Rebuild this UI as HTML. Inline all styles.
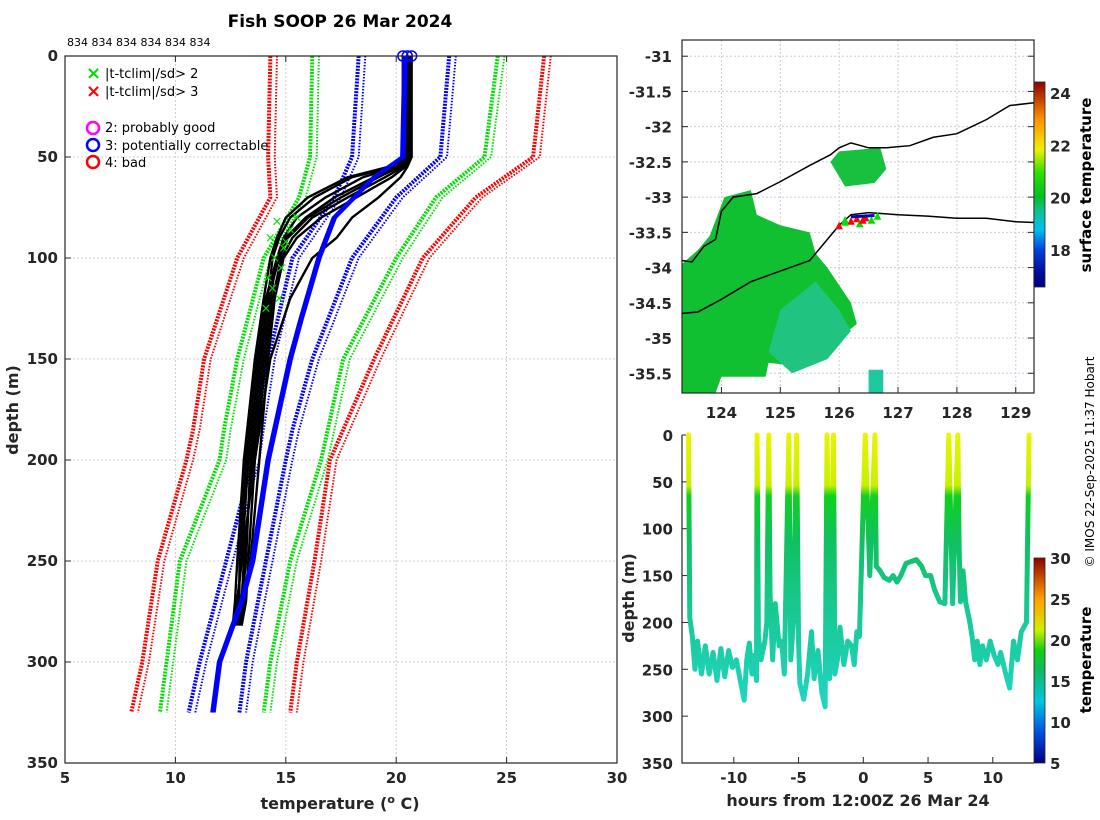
<!DOCTYPE html>
<html><head><meta charset="utf-8"><style>
body{margin:0;background:#fff}
svg{display:block;font-family:"DejaVu Sans","Liberation Sans",sans-serif}
.tk{font-size:15px;font-weight:bold;fill:#262626}
.lab{font-size:16px;font-weight:bold;fill:#262626}
</style></head><body>
<svg id="fig" width="1100" height="820" viewBox="0 0 1100 820">
<defs>
<linearGradient id="cbMap" x1="0" y1="1" x2="0" y2="0">
<stop offset="0" stop-color="#00007f"/><stop offset="0.08" stop-color="#0010a0"/><stop offset="0.18" stop-color="#0040e0"/><stop offset="0.28" stop-color="#00c0f0"/><stop offset="0.37" stop-color="#10c090"/><stop offset="0.44" stop-color="#00c020"/><stop offset="0.56" stop-color="#30e000"/><stop offset="0.67" stop-color="#f0f000"/><stop offset="0.82" stop-color="#ff9000"/><stop offset="1" stop-color="#900000"/></linearGradient>
<linearGradient id="cbT" x1="0" y1="1" x2="0" y2="0"><stop offset="0" stop-color="#00007f"/><stop offset="0.15" stop-color="#0050e0"/><stop offset="0.3" stop-color="#00c8e0"/><stop offset="0.45" stop-color="#10b860"/><stop offset="0.55" stop-color="#10d010"/><stop offset="0.65" stop-color="#d0f000"/><stop offset="0.8" stop-color="#ffa000"/><stop offset="1" stop-color="#900000"/></linearGradient>
<linearGradient id="tsGrad" gradientUnits="userSpaceOnUse" x1="0" y1="435" x2="0" y2="700"><stop offset="0" stop-color="#e8f400"/><stop offset="0.19" stop-color="#c8f000"/><stop offset="0.23" stop-color="#10d020"/><stop offset="0.4" stop-color="#10c060"/><stop offset="0.65" stop-color="#18c890"/><stop offset="1" stop-color="#20d4c0"/></linearGradient>
</defs>
<g id="left"></g><g id="map"></g><g id="ts"></g>
<text x="340" y="27" text-anchor="middle" style="font-size:17px;font-weight:bold">Fish SOOP 26 Mar 2024</text>
<text x="67" y="46" style="font-size:11px">834 834 834 834 834 834</text>
<text class="lab" x="340" y="809" text-anchor="middle">temperature (<tspan dy="-6" style="font-size:11px">o</tspan><tspan dy="6"> C)</tspan></text>
<text class="lab" transform="translate(18,410) rotate(-90)" text-anchor="middle">depth (m)</text>
<text class="lab" x="858" y="806" text-anchor="middle">hours from 12:00Z 26 Mar 24</text>
<text class="lab" transform="translate(634,598) rotate(-90)" text-anchor="middle">depth (m)</text>
<text transform="translate(1091,185) rotate(-90)" text-anchor="middle" style="font-size:15px;font-weight:bold">surface temperature</text>
<text transform="translate(1091,660) rotate(-90)" text-anchor="middle" style="font-size:15px;font-weight:bold">temperature</text>
<text transform="translate(1094,462) rotate(-90)" text-anchor="middle" style="font-size:12px">© IMOS 22-Sep-2025 11:37 Hobart</text>
<g style="font-size:13px">
<text x="86" y="79" fill="#00e000" style="font-size:18px;font-weight:bold">×</text><text x="105" y="78">|t-tclim|/sd&gt; 2</text>
<text x="86" y="97" fill="#ff0000" style="font-size:18px;font-weight:bold">×</text><text x="105" y="96">|t-tclim|/sd&gt; 3</text>
<circle cx="93" cy="128" r="6" fill="none" stroke="#ff00ff" stroke-width="2.5"/><text x="105" y="132">2: probably good</text>
<circle cx="93" cy="145" r="6" fill="none" stroke="#0000ff" stroke-width="2.5"/><text x="105" y="150">3: potentially correctable</text>
<circle cx="93" cy="162" r="6" fill="none" stroke="#ff0000" stroke-width="2.5"/><text x="105" y="167">4: bad</text>
</g>
</svg>
<script>
const NS="http://www.w3.org/2000/svg";
// ---- left profile chart data ----
const climDepths=[0,50,70,100,150,185,200,250,300,325];
const redLow=[14.3,14.2,14.3,12.8,11.3,10.8,10.5,9.2,8.5,8.0];
const greenLow=[16.2,16.1,15.6,14.0,12.8,12.2,12.0,10.2,9.6,9.3];
const blueLow=[18.3,18.0,17.2,15.3,14.2,13.7,13.5,12.3,11.1,10.6];
const blueHigh=[22.4,22.0,20.0,18.0,16.2,15.3,15.0,14.1,13.2,12.9];
const greenHigh=[24.6,24.0,21.8,20.0,17.6,16.9,16.6,15.2,14.3,14.0];
const redHigh=[26.7,26.2,23.6,21.2,19.0,17.6,17.0,16.3,15.5,15.2];
const meanDepths=[0,50,60,80,100,130,150,200,250,270,300,325];
const meanTemp=[20.4,20.3,19.0,17.2,16.5,15.7,15.2,14.2,13.5,13.0,12.0,11.7];
const profDepths=[0,50,55,60,70,80,90,100,120,150,200,250,270,282];
const profiles=[
[20.5,20.5,20.0,18.5,16.8,15.5,14.9,14.6,14.3,14.0,13.5,13.1,13.0,12.9],
[20.6,20.6,20.3,19.5,17.8,16.2,15.3,14.8,14.4,14.1,13.6,13.3,13.2,13.0],
[20.4,20.4,19.8,18.0,16.3,15.2,14.7,14.4,14.2,13.8,13.3,13.0,12.8,12.7],
[20.7,20.7,20.5,20.2,19.2,18.0,17.3,16.2,15.2,14.3,13.6,13.0,12.8,12.7],
[20.5,20.5,20.2,19.0,17.2,15.9,15.0,14.6,14.1,13.7,13.2,12.9,12.9,12.8],
[20.6,20.6,20.4,19.8,18.2,16.6,15.5,14.9,14.5,14.2,13.8,13.4,13.1,13.0],
[20.3,20.3,19.6,17.8,16.0,15.0,14.6,14.3,14.0,13.6,13.1,12.8,12.7,12.6],
[20.5,20.5,20.1,19.2,17.5,16.0,15.1,14.7,14.2,13.9,13.4,13.2,13.0,12.9]];
const flagTemp=[14.6,15.2,14.3,14.9,15.5,14.5,14.8,14.2,15.0,14.4,14.7,14.1];
const flagDepth=[82,86,90,95,80,100,105,110,92,115,120,125];
const xTicks=[5,10,15,20,25,30];
const yTicks=[0,50,100,150,200,250,300,350];
// ---- map data ----
const lonTicks=[124,125,126,127,128,129];
const latTicks=[-31,-31.5,-32,-32.5,-33,-33.5,-34,-34.5,-35,-35.5];
const coastLon=[123.33,123.5,123.7,123.9,124.0,124.2,124.6,125.0,125.5,125.85,126.0,126.2,126.5,126.8,127.2,127.6,128.0,128.5,128.9,129.31];
const coastLat=[-33.9,-33.92,-33.7,-33.6,-33.2,-33.0,-32.95,-32.78,-32.55,-32.4,-32.3,-32.23,-32.3,-32.3,-32.27,-32.15,-32.1,-31.9,-31.7,-31.66];
const shelfLon=[123.33,123.6,124.0,124.5,125.0,125.5,125.8,126.0,126.2,126.5,127.0,127.5,128.0,128.5,129.0,129.31];
const shelfLat=[-34.65,-34.63,-34.45,-34.2,-34.05,-33.9,-33.6,-33.4,-33.25,-33.22,-33.25,-33.27,-33.3,-33.3,-33.35,-33.36];
const sstMainLon=[123.33,123.6,123.8,124.05,124.5,124.6,125.0,125.5,125.6,125.8,126.2,126.3,126.0,125.6,125.3,124.8,124.75,124.0,123.9,123.33];
const sstMainLat=[-33.95,-33.75,-33.55,-33.0,-32.9,-33.25,-33.4,-33.5,-33.8,-34.0,-34.5,-34.8,-35.0,-35.3,-35.4,-35.35,-35.55,-35.55,-35.78,-35.78];
const sstNorthLon=[125.85,126.0,126.7,126.8,126.6,126.1];
const sstNorthLat=[-32.5,-32.35,-32.3,-32.6,-32.8,-32.85];
const sstTealLon=[125.0,125.6,126.0,126.2,125.8,125.2,124.8];
const sstTealLat=[-34.6,-34.2,-34.6,-34.9,-35.3,-35.5,-35.2];
const sstSouthLon=[126.5,126.75,126.75,126.5];
const sstSouthLat=[-35.45,-35.45,-35.78,-35.78];
const mkLon=[126.0,126.1,126.2,126.3,126.35,126.45,126.55,126.65,126.1,126.4];
const mkLat=[-33.38,-33.3,-33.32,-33.28,-33.35,-33.27,-33.3,-33.25,-33.33,-33.3];
const mkFlag=[3,2,3,3,2,3,2,2,2,3];
const sstTicks=[24,22,20,18];
// ---- time series data ----
const tsHours=[-13.5,-13.4,-13.2,-13.0,-12.8,-12.5,-12.2,-11.9,-11.6,-11.3,-11.0,-10.7,-10.4,-10.1,-9.8,-9.5,-9.2,-9.0,-8.8,-8.6,-8.4,-8.25,-8.2,-8.1,-7.9,-7.6,-7.45,-7.3,-7.2,-7.0,-6.8,-6.5,-6.3,-6.1,-5.75,-5.6,-5.4,-5.15,-5.0,-4.9,-4.6,-4.3,-4.0,-3.8,-3.5,-3.2,-2.95,-2.8,-2.6,-2.3,-2.2,-2.0,-1.8,-1.5,-1.2,-0.9,-0.7,-0.5,-0.3,0.15,0.5,0.9,1.0,1.3,1.6,2.0,2.3,2.6,2.9,3.3,3.7,4.1,4.5,4.8,5.2,5.5,5.9,6.3,6.6,6.9,7.3,7.4,7.5,7.7,7.9,8.2,8.4,8.6,8.8,9.0,9.2,9.5,9.8,10.1,10.4,10.6,11.0,11.3,11.6,11.9,12.2,12.6,12.8];
const tsDepth=[0,195,215,250,220,255,225,255,232,262,228,258,230,248,240,262,283,240,222,255,235,262,0,215,240,220,200,0,170,240,180,225,220,255,0,240,200,0,220,265,282,255,210,260,230,275,290,0,260,0,255,240,205,245,220,225,245,210,215,0,150,0,140,145,152,155,150,157,150,137,135,133,140,150,150,165,178,180,0,180,0,120,178,145,178,198,215,240,220,245,225,240,220,235,245,232,255,270,220,240,210,200,0];
const tsXTicks=[-10,-5,0,5,10];
const cbTTicks=[30,25,20,15,10,5];

function el(tag,attrs,parent){const e=document.createElementNS(NS,tag);for(const k in attrs)e.setAttribute(k,attrs[k]);parent.appendChild(e);return e;}
function txt(s,attrs,parent){const e=el('text',attrs,parent);e.textContent=s;return e;}

// ===== Left chart =====
const L=document.getElementById('left');
const X=t=>65+(t-5)*(552/25), Y=d=>56+d*(707/350);
yTicks.forEach(v=>{const g=el('line',{x1:65,x2:617,y1:Y(v),y2:Y(v),stroke:'#c8cce0','stroke-dasharray':'2 2','stroke-width':1},L);


const t=txt(v,{x:58,y:Y(v)+5,'text-anchor':'end',class:'tk'},L);


el('line',{x1:65,x2:71,y1:Y(v),y2:Y(v),stroke:'#262626'},L);});
xTicks.forEach(v=>{const g=el('line',{x1:X(v),x2:X(v),y1:56,y2:763,stroke:'#d8c8c0','stroke-dasharray':'2 2'},L);


el('line',{x1:X(v),x2:X(v),y1:763,y2:757,stroke:'#262626'},L);
el('line',{x1:X(v),x2:X(v),y1:56,y2:62,stroke:'#262626'},L);
const t=txt(v,{x:X(v),y:783,'text-anchor':'middle',class:'tk'},L);

});
function pl(ts,ds,attrs,name){const p=el('polyline',Object.assign({points:ts.map((t,i)=>X(t)+','+Y(ds[i])).join(' '),fill:'none'},attrs),L);

return p;}
[[redLow,'#ff0000','clim-red-low'],[greenLow,'#00e000','clim-green-low'],[blueLow,'#0000ff','clim-blue-low'],[blueHigh,'#0000ff','clim-blue-high'],[greenHigh,'#00e000','clim-green-high'],[redHigh,'#ff0000','clim-red-high']].forEach(([arr,c,n])=>{
pl(arr,climDepths,{stroke:c,'stroke-width':4,'stroke-dasharray':'2 1.2'},n);
pl(arr.map(v=>v+0.3),climDepths,{stroke:c,'stroke-width':2,'stroke-dasharray':'1.5 1.5'},n+'-pair');});
profiles.forEach(p=>pl(p,profDepths,{stroke:'#000','stroke-width':2.4},'temperature-profile'));
[0,-0.07,0.07].forEach(o=>pl(meanTemp.map(v=>v+o),meanDepths,{stroke:'#0000ff','stroke-width':2.4},'mean-profile'));
flagTemp.forEach((t,i)=>{const m=txt('×',{x:X(t),y:Y(flagDepth[i])+4,'text-anchor':'middle',fill:'#00e000',style:'font-size:13px'},L);

});
[20.3,20.5,20.7].forEach(t=>{const c=el('circle',{cx:X(t),cy:Y(0),r:5,fill:'none',stroke:'#0000ff','stroke-width':1.5},L);

});
const bx=el('rect',{x:65,y:56,width:552,height:707,fill:'none',stroke:'#262626','stroke-width':1.2},L);



// ===== Map =====
const M=document.getElementById('map');
const MX=lo=>682+(lo-123.33)*(352/5.98), MY=la=>40+(-30.77-la)*(353/5.01);
latTicks.forEach(v=>{el('line',{x1:682,x2:1034,y1:MY(v),y2:MY(v),stroke:'#c8cce0','stroke-dasharray':'2 2'},M);
el('line',{x1:682,x2:688,y1:MY(v),y2:MY(v),stroke:'#262626'},M);el('line',{x1:1028,x2:1034,y1:MY(v),y2:MY(v),stroke:'#262626'},M);
const t=txt(v,{x:672,y:MY(v)+6,'text-anchor':'end',class:'tk'},M);

});
lonTicks.forEach(v=>{el('line',{x1:MX(v),x2:MX(v),y1:40,y2:393,stroke:'#c8cce0','stroke-dasharray':'2 2'},M);
el('line',{x1:MX(v),x2:MX(v),y1:393,y2:387,stroke:'#262626'},M);
const t=txt(v,{x:MX(v),y:418,'text-anchor':'middle',class:'tk'},M);

});
function poly(lons,lats,fill,name){const p=el('polygon',{points:lons.map((l,i)=>MX(l)+','+MY(lats[i])).join(' '),fill:fill},M);

}
poly(sstMainLon,sstMainLat,'#10c030','sst-patch-main');
poly(sstTealLon,sstTealLat,'#20c480','sst-patch-teal');
poly(sstNorthLon,sstNorthLat,'#18c040','sst-patch-north');
poly(sstSouthLon,sstSouthLat,'#20c8a0','sst-patch-south');
function line(lons,lats,name){const p=el('polyline',{points:lons.map((l,i)=>MX(l)+','+MY(lats[i])).join(' '),fill:'none',stroke:'#000','stroke-width':1.5},M);

}
line(coastLon,coastLat,'coastline');
line(shelfLon,shelfLat,'shelf-line');
mkLon.forEach((l,i)=>{const m=txt('▲',{x:MX(l),y:MY(mkLat[i])+4,'text-anchor':'middle',fill:mkFlag[i]==3?'#ff0000':'#00e000',style:'font-size:10px'},M);

});
el('line',{x1:MX(126.2),x2:MX(126.6),y1:MY(-33.28),y2:MY(-33.26),stroke:'#0000c0','stroke-width':3},M);
const mb=el('rect',{x:682,y:40,width:352,height:353,fill:'none',stroke:'#262626','stroke-width':1.2},M);


const cb=el('rect',{x:1034,y:82,width:11,height:205,fill:'url(#cbMap)',stroke:'#262626','stroke-width':0.8},M);


const CY=v=>93+(24-v)*(157/6);
sstTicks.forEach(v=>{const t=txt(v,{x:1050,y:CY(v)+6,class:'tk'},M);

});

// ===== Time series =====
const T=document.getElementById('ts');
const TX=h=>863.3+h*12.95, TY=d=>435+d*(328/350);
yTicks.forEach(v=>{el('line',{x1:682,x2:688,y1:TY(v),y2:TY(v),stroke:'#262626'},T);
const t=txt(v,{x:673,y:TY(v)+6,'text-anchor':'end',class:'tk'},T);

});
tsXTicks.forEach(v=>{el('line',{x1:TX(v),x2:TX(v),y1:763,y2:757,stroke:'#262626'},T);
const t=txt(v,{x:TX(v),y:783,'text-anchor':'middle',class:'tk'},T);

});
const tsl=el('polyline',{points:tsHours.map((h,i)=>TX(h)+','+TY(tsDepth[i])).join(' '),fill:'none',stroke:'url(#tsGrad)','stroke-width':5,'stroke-linejoin':'round','stroke-linecap':'round'},T);


el('polyline',{points:'682,435 682,763 1034,763',fill:'none',stroke:'#262626','stroke-width':1.2},T);
const cb2=el('rect',{x:1034,y:558,width:11,height:205,fill:'url(#cbT)',stroke:'#262626','stroke-width':0.8},T);


const CY2=v=>558+(30-v)*(205/25);
cbTTicks.forEach(v=>{const t=txt(v,{x:1050,y:CY2(v)+6,class:'tk'},T);

});
</script>
</body></html>
